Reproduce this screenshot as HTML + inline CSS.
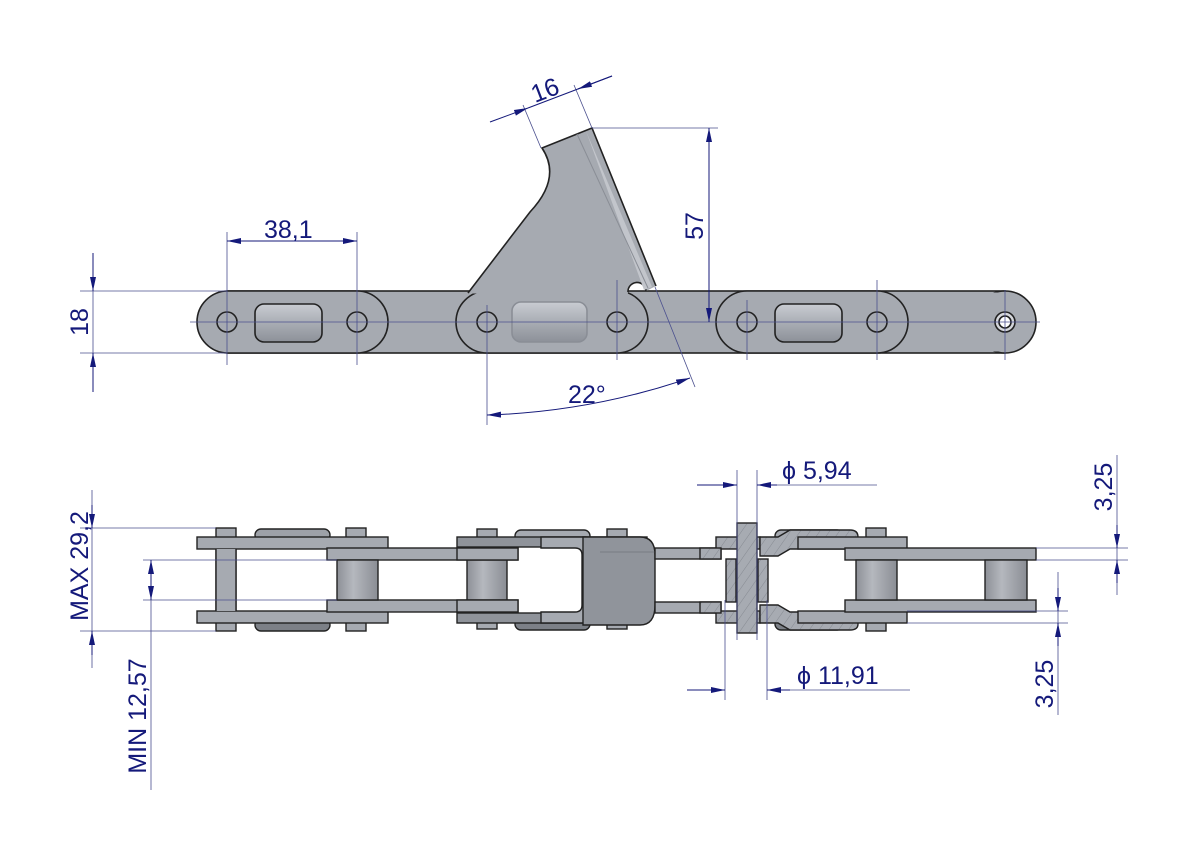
<!DOCTYPE html>
<html><head><meta charset="utf-8"><style>
html,body{margin:0;padding:0;background:#fff;}
svg{display:block;}
text{font-family:"Liberation Sans",sans-serif;fill:#14197a;font-size:25px;}
</style></head><body>
<svg width="1191" height="842" viewBox="0 0 1191 842" xmlns="http://www.w3.org/2000/svg">
<defs>
<marker id="a" markerWidth="14" markerHeight="8" refX="14" refY="4" orient="auto-start-reverse" markerUnits="userSpaceOnUse"><path d="M0,1 L14,4 L0,7 Z" fill="#14197a"/></marker>
<linearGradient id="slot" x1="0" y1="0" x2="0" y2="1"><stop offset="0" stop-color="#c9ccd2"/><stop offset="0.5" stop-color="#a9adb4"/><stop offset="1" stop-color="#8d9199"/></linearGradient>
<linearGradient id="rol" x1="0" y1="0" x2="1" y2="0"><stop offset="0" stop-color="#8d9097"/><stop offset="0.4" stop-color="#b5b8be"/><stop offset="1" stop-color="#8a8d94"/></linearGradient>
<pattern id="h" width="8" height="8" patternUnits="userSpaceOnUse" patternTransform="rotate(35)"><rect width="8" height="8" fill="#a7abb2"/><line x1="0" y1="0" x2="0" y2="8" stroke="#7d818a" stroke-width="0.8"/></pattern>
</defs>
<g stroke="#222" stroke-width="1.6" fill="#a6aab1">
<rect x="227" y="291" width="778" height="62"/>
<rect x="197" y="291" width="191" height="62" rx="31"/>
<rect x="456" y="291" width="192" height="62" rx="31"/>
<rect x="716" y="291" width="192" height="62" rx="31"/>
<circle cx="1005" cy="322" r="31"/>
<rect x="960" y="292.5" width="45" height="59" stroke="none"/>
<!-- tab -->
<path d="M468,293.5 L530,212 Q562,178 542,148 L592,128 L656,286 L646,291 A9 9 0 1 0 628,293.5 Z" stroke="none"/>
<path d="M468,293 L530,212 Q562,178 542,148 L592,128 L656,286" fill="none"/>
<path d="M646,291 A9 9 0 1 0 628,292" fill="none"/>
<path d="M586,131 L652,287 L644,290 Z" fill="#c2c5cb" stroke="none"/>
<path d="M577,134 L648,288" stroke="#8a8e96" stroke-width="1" fill="none"/>
<circle cx="227" cy="322" r="10"/><circle cx="357" cy="322" r="10"/>
<circle cx="487" cy="322" r="10"/><circle cx="617" cy="322" r="10"/>
<circle cx="747" cy="322" r="10"/><circle cx="877" cy="322" r="10"/>
<circle cx="1005" cy="322" r="10" fill="#d5d7dc"/><circle cx="1005" cy="322" r="6" fill="#fff"/>
<rect x="255" y="304" width="67" height="38" rx="9" fill="url(#slot)"/>
<rect x="512" y="302" width="75" height="40" rx="9" fill="url(#slot)" stroke="#8a8e96"/>
<rect x="775" y="304" width="67" height="38" rx="9" fill="url(#slot)"/>
</g>
<g stroke="#4a4f8e" stroke-width="0.8" fill="none">
<line x1="190" y1="322" x2="1040" y2="322"/>
<line x1="227" y1="232" x2="227" y2="365"/><line x1="357" y1="232" x2="357" y2="365"/>
<line x1="487" y1="305" x2="487" y2="425"/><line x1="617" y1="280" x2="617" y2="360"/>
<line x1="747" y1="300" x2="747" y2="360"/><line x1="877" y1="280" x2="877" y2="360"/>
<line x1="1005" y1="290" x2="1005" y2="360"/>
<line x1="80" y1="291" x2="227" y2="291"/><line x1="80" y1="353" x2="227" y2="353"/>
<line x1="592" y1="128" x2="718" y2="128"/>
<line x1="655" y1="287" x2="695" y2="387"/>
<line x1="541" y1="148" x2="523" y2="105"/><line x1="592" y1="128" x2="574" y2="85"/>
</g>
<g stroke="#14197a" stroke-width="1" fill="none">
<line x1="227" y1="241" x2="357" y2="241" marker-start="url(#a)" marker-end="url(#a)"/>
<line x1="93" y1="253" x2="93" y2="291" marker-end="url(#a)"/>
<line x1="93" y1="392" x2="93" y2="353" marker-end="url(#a)"/>
<line x1="93" y1="291" x2="93" y2="353" stroke="#4a4f8e" stroke-width="0.8"/>
<line x1="709" y1="128" x2="709" y2="322" marker-start="url(#a)" marker-end="url(#a)"/>
<line x1="490" y1="122" x2="528" y2="108" marker-end="url(#a)"/>
<line x1="528" y1="108" x2="612" y2="76"/>
<line x1="612" y1="76" x2="578" y2="89" marker-end="url(#a)"/>
<path d="M487,415 Q590,412 690,378" marker-start="url(#a)" marker-end="url(#a)"/>
</g>
<text x="264" y="238">38,1</text>
<text transform="translate(88,322) rotate(-90)" text-anchor="middle">18</text>
<text transform="translate(703,226) rotate(-90)" text-anchor="middle">57</text>
<text transform="translate(548,98) rotate(-21)" text-anchor="middle">16</text>
<text x="568" y="403">22°</text>

<g stroke="#222" stroke-width="1.4" fill="#a6aab1">
<rect x="255" y="529" width="75" height="12" rx="6" fill="#9da1a8"/>
<rect x="255" y="619" width="75" height="12" rx="6" fill="#7c8087"/>
<rect x="515" y="530" width="75" height="12" rx="6"/>
<rect x="515" y="618" width="75" height="12" rx="6" fill="#7c8087"/>
<rect x="775" y="530" width="68" height="12" rx="6"/>
<rect x="775" y="618" width="68" height="12" rx="6" fill="#7c8087"/>
<rect x="216" y="528" width="20" height="103"/>
<rect x="346" y="528" width="20" height="103"/>
<rect x="477" y="529" width="20" height="100"/>
<rect x="607" y="529" width="20" height="100"/>
<rect x="866" y="528" width="20" height="103"/>
<rect x="197" y="537" width="191" height="12"/>
<rect x="197" y="611" width="191" height="12"/>
<rect x="216" y="549" width="20" height="62" stroke="none"/>
<line x1="216" y1="549" x2="216" y2="611"/><line x1="236" y1="549" x2="236" y2="611"/>
<rect x="327" y="548" width="191" height="12"/>
<rect x="327" y="600" width="191" height="12"/>
<rect x="337" y="560" width="41" height="40" fill="url(#rol)"/>
<rect x="467" y="560" width="40" height="40" fill="url(#rol)"/>
<rect x="457" y="537" width="190" height="10" fill="#8f939a"/>
<rect x="457" y="613" width="190" height="10" fill="#8f939a"/>
<rect x="457" y="548" width="61" height="12"/>
<rect x="457" y="600" width="61" height="12"/>
<path d="M541,537 L585,537 Q600,537 600,552 L600,608 Q600,623 585,623 L541,623 L541,612 L575,612 Q582,612 582,605 L582,555 Q582,548 575,548 L541,548 Z"/>
<path d="M583,537 L640,537 Q655,537 655,555 L655,605 Q655,625 640,625 L583,625 Z" fill="#90949b"/>
<line x1="600" y1="552" x2="655" y2="552" stroke="#777b83" stroke-width="1"/>
<rect x="655" y="548" width="66" height="11"/>
<rect x="655" y="602" width="66" height="11"/>
<rect x="716" y="537" width="44" height="12" fill="url(#h)"/>
<rect x="716" y="611" width="44" height="12" fill="url(#h)"/>
<rect x="700" y="548" width="21" height="11" fill="url(#h)"/>
<rect x="700" y="602" width="21" height="11" fill="url(#h)"/>
<rect x="726" y="559" width="10" height="43" fill="url(#h)"/>
<rect x="758" y="559" width="10" height="43" fill="url(#h)"/>
<path d="M760,537 L778,537 L790,530 L850,530 Q858,530 858,537 L858,549 L790,549 L778,556 L760,556 Z" fill="url(#h)"/>
<path d="M760,605 L778,605 L790,612 L858,612 L858,624 Q858,630 850,630 L790,630 L778,623 L760,623 Z" fill="url(#h)"/>
<rect x="737" y="523" width="20" height="110" fill="url(#h)"/>
<rect x="798" y="537" width="109" height="12"/>
<rect x="798" y="611" width="109" height="12"/>
<rect x="845" y="548" width="191" height="12"/>
<rect x="845" y="600" width="191" height="12"/>
<rect x="856" y="560" width="41" height="40" fill="url(#rol)"/>
<rect x="985" y="560" width="42" height="40" fill="url(#rol)"/>
</g>
<g stroke="#4a4f8e" stroke-width="0.8" fill="none">
<line x1="80" y1="528" x2="216" y2="528"/><line x1="80" y1="631" x2="216" y2="631"/>
<line x1="92" y1="490" x2="92" y2="668"/>
<line x1="143" y1="560" x2="337" y2="560"/><line x1="143" y1="600" x2="337" y2="600"/>
<line x1="151" y1="600" x2="151" y2="790"/>
<line x1="737" y1="470" x2="737" y2="640"/><line x1="757" y1="470" x2="757" y2="640"/>
<line x1="725" y1="600" x2="725" y2="700"/><line x1="767" y1="600" x2="767" y2="700"/>
<line x1="757" y1="485" x2="877" y2="485"/><line x1="767" y1="690" x2="910" y2="690"/>
<line x1="1036" y1="548" x2="1128" y2="548"/><line x1="1036" y1="560" x2="1128" y2="560"/>
<line x1="1117" y1="455" x2="1117" y2="595"/>
<line x1="907" y1="611" x2="1068" y2="611"/><line x1="907" y1="623" x2="1068" y2="623"/>
<line x1="1058" y1="572" x2="1058" y2="715"/>
</g>
<g stroke="#14197a" stroke-width="1" fill="none">
<line x1="92" y1="505" x2="92" y2="528" marker-end="url(#a)"/>
<line x1="92" y1="655" x2="92" y2="631" marker-end="url(#a)"/>
<line x1="151" y1="580" x2="151" y2="560" marker-end="url(#a)"/>
<line x1="151" y1="580" x2="151" y2="600" marker-end="url(#a)"/>
<line x1="697" y1="485" x2="737" y2="485" marker-end="url(#a)"/>
<line x1="777" y1="485" x2="757" y2="485" marker-end="url(#a)"/>
<line x1="687" y1="690" x2="725" y2="690" marker-end="url(#a)"/>
<line x1="790" y1="690" x2="767" y2="690" marker-end="url(#a)"/>
<line x1="1117" y1="525" x2="1117" y2="548" marker-end="url(#a)"/>
<line x1="1117" y1="583" x2="1117" y2="560" marker-end="url(#a)"/>
<line x1="1058" y1="588" x2="1058" y2="611" marker-end="url(#a)"/>
<line x1="1058" y1="646" x2="1058" y2="623" marker-end="url(#a)"/>
</g>
<text transform="translate(88,566) rotate(-90)" text-anchor="middle">MAX 29,2</text>
<text transform="translate(146,716) rotate(-90)" text-anchor="middle">MIN 12,57</text>
<text x="782" y="479">ϕ  5,94</text>
<text x="797" y="684">ϕ  11,91</text>
<text transform="translate(1112,487) rotate(-90)" text-anchor="middle">3,25</text>
<text transform="translate(1053,684) rotate(-90)" text-anchor="middle">3,25</text>
</svg>
</body></html>
